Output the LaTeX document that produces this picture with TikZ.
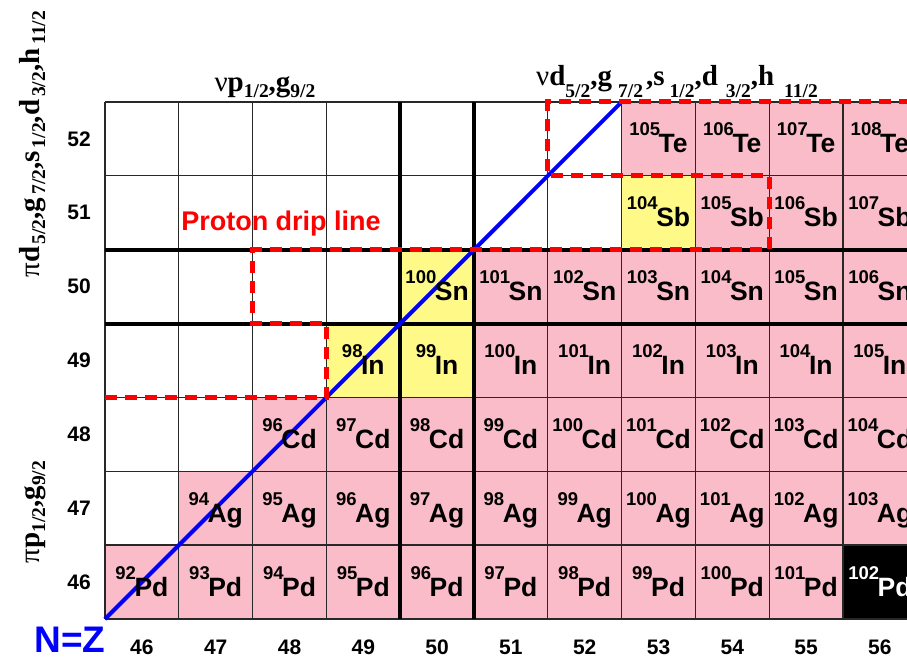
\documentclass[tikz,border=0pt]{standalone}
\usepackage{fontspec}
\usepackage{graphicx}
\setmainfont{Liberation Serif}
\newfontfamily\arialfont{Liberation Sans}
\definecolor{cellpink}{RGB}{250,188,200}
\definecolor{cellyellow}{RGB}{255,250,135}
\definecolor{dripred}{RGB}{255,0,0}
\definecolor{nzblue}{RGB}{0,0,255}
\definecolor{gridgray}{RGB}{40,40,40}
\newcommand\topsub[1]{\raisebox{-12pt}{\fontsize{19.5}{19.5}\selectfont #1}}
\newcommand\lowsub[1]{\raisebox{-6pt}{\fontsize{19.5}{19.5}\selectfont #1}}
\newcommand\isolabel[2]{\raisebox{17pt}{\fontsize{18.5}{18.5}\selectfont #1}\kern-1.5pt{\fontsize{26.5}{26.5}\selectfont #2}}
\tikzset{
  isotext/.style={anchor=base, inner sep=0pt, font=\arialfont\bfseries, yshift=-14pt},
  axisnum/.style={inner sep=0pt, font=\arialfont\bfseries\fontsize{21}{21}\selectfont},
  gridthin/.style={draw=gridgray, line width=1.3pt},
  gridthick/.style={draw=black, line width=4pt},
  nzline/.style={draw=nzblue, line width=4pt},
  dripline/.style={draw=dripred, line width=5pt, dash pattern=on 12pt off 8pt, line join=miter},
  shelllabel/.style={anchor=base, inner sep=0pt, font=\bfseries\fontsize{29}{29}\selectfont},
}
\begin{document}
\begin{tikzpicture}
\useasboundingbox (0,0) rectangle (907pt,-659pt);
\clip (0,0) rectangle (907pt,-659pt);
\fill[white] (0,0) rectangle (907pt,-659pt);
\begin{scope}[shift={(105pt,-619pt)}, x=73.8pt, y=73.86pt]
  % cell fills
  \foreach \j/\a/\b in {0/0/9,1/1/10,2/2/10,3/5/10,4/5/10,5/8/10,6/7/10}
    \foreach \i in {\a,...,\b} \fill[cellpink] (\i,\j) rectangle ++(1,1);
  \foreach \i/\j in {3/3,4/3,4/4,7/5} \fill[cellyellow] (\i,\j) rectangle ++(1,1);
  \fill[black] (10,0) rectangle ++(1,1);
  % grid
  \foreach \i in {0,...,11} \draw[gridthin] (\i,0) -- (\i,7);
  \foreach \j in {0,...,7} \draw[gridthin] (0,\j) -- (11,\j);
  \foreach \i in {4,5} \draw[gridthick] (\i,0) -- (\i,7);
  \foreach \j in {4,5} \draw[gridthick] (0,\j) -- (11,\j);
  % N=Z line
  \coordinate (nz-a) at (0,0);
  \coordinate (nz-b) at (7,7);
  \draw[nzline] (nz-a) -- (nz-b);
  % isotope labels
  \foreach \j/\sym/\a/\b in {0/Pd/0/9,1/Ag/1/10,2/Cd/2/10,3/In/3/10,4/Sn/4/10,5/Sb/7/10,6/Te/7/10}
    \foreach \i in {\a,...,\b} {
      \pgfmathtruncatemacro\mass{92+\i+\j}
      \node[isotext] (iso-\i-\j) at (\i+0.5,\j+0.5) {\isolabel{\mass}{\sym}};
    }
  \node[isotext, text=white] (iso-10-0) at (10.5,0.5) {\isolabel{102}{Pd}};
  % axis numbers
  \foreach \k in {0,...,10} {
    \pgfmathtruncatemacro\num{46+\k}
    \node[axisnum] (col-\k) at (\k+0.5,-0.38) {\num};
  }
  \foreach \k in {0,...,6} {
    \pgfmathtruncatemacro\num{46+\k}
    \node[axisnum] (row-\k) at (-0.352,\k+0.5) {\num};
  }
  % proton drip line
  \coordinate (d0) at (0,3);
  \coordinate (d1) at (3,3);
  \coordinate (d2) at (3,4);
  \coordinate (d3) at (2,4);
  \coordinate (d4) at (2,5);
  \coordinate (d5) at (9,5);
  \coordinate (d6) at (9,6);
  \coordinate (d7) at (6,6);
  \coordinate (d8) at (6,7);
  \coordinate (d9) at (11.2,7);
  \draw[dripline] (d0) -- (d1) -- (d2) -- (d3) -- (d4) -- (d5) -- (d6) -- (d7) -- (d8) -- (d9);
\end{scope}
\node[inner sep=0pt, font=\arialfont\bfseries\fontsize{37}{37}\selectfont, text=nzblue] (nz-label) at (70pt,-640pt) {N=Z};
\node[anchor=base, inner sep=0pt, font=\arialfont\bfseries\fontsize{27}{27}\selectfont, text=dripred] (drip-label) at (281pt,-230pt) {Proton drip line};
\node[shelllabel] (nu-low) at (265pt,-91pt) {{\mdseries ν}p\lowsub{1/2},g\lowsub{9/2}};
\node[shelllabel] (nu-high) at (677pt,-85pt) {{\mdseries ν}d\topsub{5/2},g\kern6pt\topsub{7/2}\kern3pt,s\kern5pt\topsub{1/2},d\kern8pt\topsub{3/2},h\kern10pt\topsub{11/2}};
\node[shelllabel, rotate=90] (pi-high) at (39pt,-144pt) {{\mdseries π}d\kern2pt\lowsub{5/2},g\kern3pt\lowsub{7/2},s\kern3pt\lowsub{1/2},d\kern3pt\lowsub{3/2},h\kern4pt\lowsub{11/2}};
\node[shelllabel, rotate=90] (pi-low) at (39pt,-512pt) {{\mdseries π}p\lowsub{1/2},g\lowsub{9/2}};
\end{tikzpicture}
\end{document}
